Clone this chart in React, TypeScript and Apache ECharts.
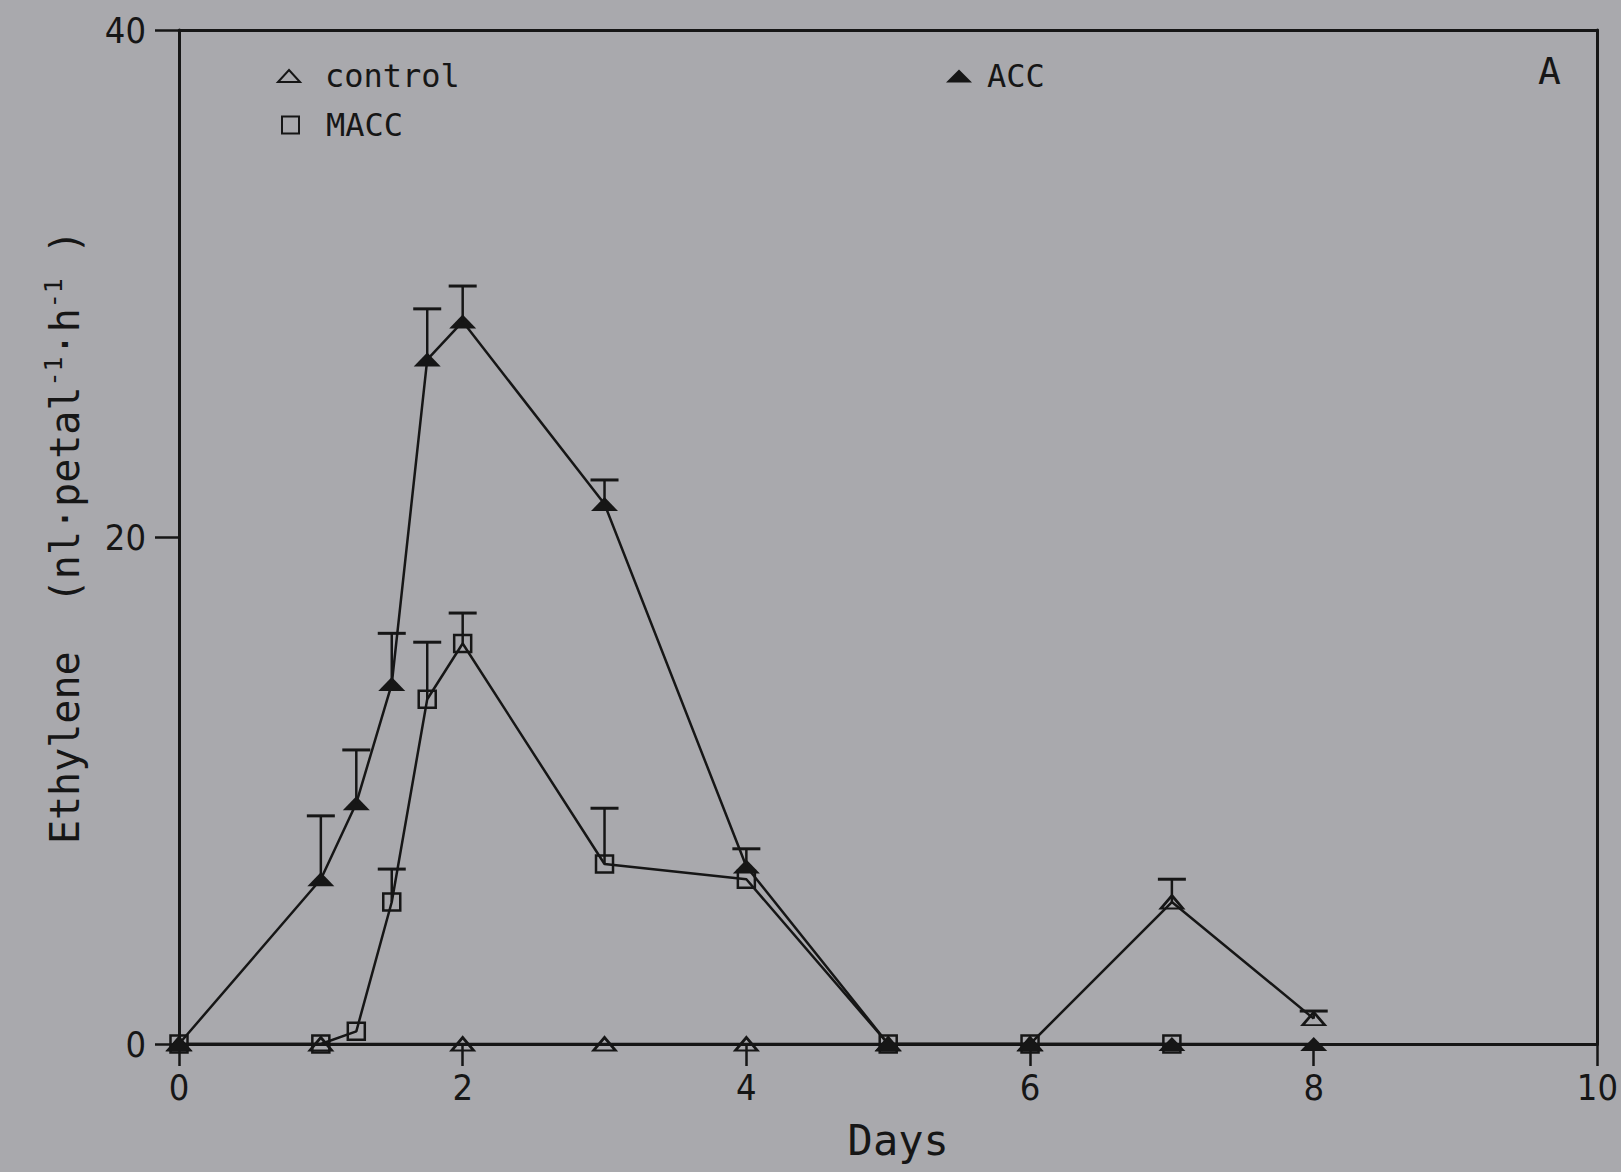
import React, { useEffect, useRef } from "react";
import * as echarts from "echarts";

// Ethylene production of cut petals after treatment (nl per petal per hour)
const controlDays = [0, 1, 2, 3, 4, 5, 6, 7, 8];
const controlValues = [0, 0, 0, 0, 0, 0, 0, 5.6, 1.0];
const controlErrDays = [7, 8];
const controlErr = [0.9, 0.3];

const accDays = [0, 1, 1.25, 1.5, 1.75, 2, 3, 4, 5, 6, 7, 8];
const accValues = [0, 6.5, 9.5, 14.2, 27.0, 28.5, 21.3, 7.0, 0, 0, 0, 0];
const accErrDays = [1, 1.25, 1.5, 1.75, 2, 3, 4];
const accErr = [2.5, 2.1, 2.0, 2.0, 1.4, 0.95, 0.7];

const maccDays = [0, 1, 1.25, 1.5, 1.75, 2, 3, 4, 5, 6, 7];
const maccValues = [0, 0, 0.5, 5.6, 13.6, 15.8, 7.1, 6.5, 0, 0, 0];
const maccErrDays = [1.5, 1.75, 2, 3];
const maccErr = [1.3, 2.25, 1.2, 2.2];

const xMin = 0;
const xMax = 10;
const xStep = 2;
const yMin = 0;
const yMax = 40;
const yStep = 20;

const INK = "#161616";
const PAPER = "#a9a9ad";
const MONO = "'DejaVu Sans Mono', monospace";
const NARROW = "'DejaVu Sans Condensed', 'DejaVu Sans Mono', sans-serif";

const pairs = (xs: number[], ys: number[]) => xs.map((x, i) => [x, ys[i]]);

const errRows = (days: number[], vals: number[], errDays: number[], errs: number[]) =>
  errDays.map((d, i) => [d, vals[days.indexOf(d)], errs[i]]);

// upward-only error bar with a flat cap
const renderErr = (_params: any, api: any) => {
  const x = api.value(0);
  const y = api.value(1);
  const e = api.value(2);
  const base = api.coord([x, y]);
  const top = api.coord([x, y + e]);
  return {
    type: "group",
    children: [
      {
        type: "line",
        shape: { x1: base[0], y1: base[1], x2: top[0], y2: top[1] },
        style: { stroke: INK, lineWidth: 2.5 },
      },
      {
        type: "line",
        shape: { x1: top[0] - 14, y1: top[1], x2: top[0] + 14, y2: top[1] },
        style: { stroke: INK, lineWidth: 3 },
      },
    ],
  };
};

const hollow = { color: "rgba(0,0,0,0)", borderColor: INK, borderWidth: 2.5 };

export default function App() {
  const ref = useRef<HTMLDivElement>(null);

  useEffect(() => {
    if (!ref.current) return;
    const chart = echarts.init(ref.current, undefined, { renderer: "svg" });

    const legendText = (pad: number) => ({
      fontFamily: MONO,
      fontSize: 32,
      color: INK,
      padding: [0, 0, 0, pad],
    });

    chart.setOption({
      animation: false,
      backgroundColor: PAPER,
      grid: { left: 179, right: 13, top: 30, bottom: 128 },
      legend: [
        {
          data: [{ name: "control", icon: "triangle" }],
          left: 277,
          top: 60,
          padding: 0,
          itemWidth: 22,
          itemHeight: 12,
          textStyle: legendText(20),
        },
        {
          data: [{ name: "MACC", icon: "rect" }],
          left: 281,
          top: 109,
          padding: 0,
          itemWidth: 17,
          itemHeight: 17,
          textStyle: legendText(22),
        },
        {
          data: [{ name: "ACC", icon: "triangle" }],
          left: 946,
          top: 60,
          padding: 0,
          itemWidth: 26,
          itemHeight: 13,
          textStyle: legendText(10),
        },
      ],
      graphic: [
        {
          type: "text",
          left: 1538,
          top: 52,
          style: { text: "A", fontFamily: MONO, fontSize: 38, fill: INK },
        },
      ],
      xAxis: [
        {
          type: "value",
          min: xMin,
          max: xMax,
          interval: xStep,
          position: "bottom",
          axisLine: { show: true, onZero: false, lineStyle: { color: INK, width: 3 } },
          axisTick: { show: true, inside: false, length: 22, lineStyle: { color: INK, width: 2.5 } },
          axisLabel: { margin: 25, fontFamily: NARROW, fontSize: 36, color: INK },
          splitLine: { show: false },
          name: "Days",
          nameLocation: "middle",
          nameGap: 75,
          nameTextStyle: { fontFamily: MONO, fontSize: 42, color: INK, padding: [0, 0, 0, 20] },
        },
        {
          type: "value",
          min: xMin,
          max: xMax,
          interval: xStep,
          position: "top",
          axisLine: { show: true, onZero: false, lineStyle: { color: INK, width: 3 } },
          axisTick: { show: false },
          axisLabel: { show: false },
          splitLine: { show: false },
        },
      ],
      yAxis: [
        {
          type: "value",
          min: yMin,
          max: yMax,
          interval: yStep,
          position: "left",
          axisLine: { show: true, onZero: false, lineStyle: { color: INK, width: 3 } },
          axisTick: { show: true, inside: false, length: 24, lineStyle: { color: INK, width: 2.5 } },
          axisLabel: { margin: 33, fontFamily: NARROW, fontSize: 36, color: INK },
          splitLine: { show: false },
          name: "{m|Ethylene  (nl·petal}{s|-1}{m|·h}{s|-1}{m| )}",
          nameLocation: "middle",
          nameRotate: 90,
          nameGap: 94,
          nameTextStyle: {
            rich: {
              m: { fontFamily: MONO, fontSize: 40, color: INK, verticalAlign: "bottom" },
              s: {
                fontFamily: MONO,
                fontSize: 25,
                color: INK,
                verticalAlign: "bottom",
                padding: [0, 0, 19, 0],
              },
            },
          },
        },
        {
          type: "value",
          min: yMin,
          max: yMax,
          interval: yStep,
          position: "right",
          axisLine: { show: true, onZero: false, lineStyle: { color: INK, width: 3 } },
          axisTick: { show: false },
          axisLabel: { show: false },
          splitLine: { show: false },
        },
      ],
      series: [
        {
          name: "control",
          type: "line",
          data: pairs(controlDays, controlValues),
          symbol: "triangle",
          symbolSize: [22, 13],
          itemStyle: hollow,
          lineStyle: { color: INK, width: 2.5 },
          z: 3,
        },
        {
          name: "MACC",
          type: "line",
          data: pairs(maccDays, maccValues),
          symbol: "rect",
          symbolSize: 17,
          itemStyle: hollow,
          lineStyle: { color: INK, width: 2.5 },
          z: 3,
        },
        {
          name: "ACC",
          type: "line",
          data: pairs(accDays, accValues),
          symbol: "triangle",
          symbolSize: [27, 14],
          itemStyle: { color: INK },
          lineStyle: { color: INK, width: 2.5 },
          z: 4,
        },
        {
          name: "controlErr",
          type: "custom",
          renderItem: renderErr,
          encode: { x: 0, y: 1 },
          data: errRows(controlDays, controlValues, controlErrDays, controlErr),
          z: 5,
        },
        {
          name: "maccErr",
          type: "custom",
          renderItem: renderErr,
          encode: { x: 0, y: 1 },
          data: errRows(maccDays, maccValues, maccErrDays, maccErr),
          z: 5,
        },
        {
          name: "accErr",
          type: "custom",
          renderItem: renderErr,
          encode: { x: 0, y: 1 },
          data: errRows(accDays, accValues, accErrDays, accErr),
          z: 5,
        },
      ],
    });

    return () => chart.dispose();
  }, []);

  return (
    <div
      ref={ref}
      style={{ position: "fixed", left: 0, top: 0, width: 1621, height: 1172, background: PAPER }}
    />
  );
}
